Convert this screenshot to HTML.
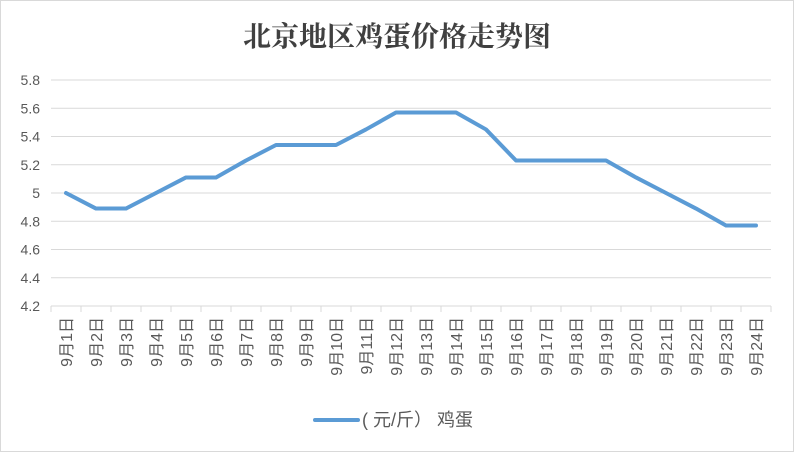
<!DOCTYPE html>
<html><head><meta charset="utf-8"><style>
html,body{margin:0;padding:0;background:#fff;}
svg{display:block;font-family:"Liberation Sans","Noto Sans CJK SC",sans-serif;}
</style></head><body>
<svg id="chart" width="794" height="452" viewBox="0 0 794 452">
<rect x="0.5" y="0.5" width="793" height="451" fill="#fff" stroke="#d9d9d9"/>
<text x="397" y="46" text-anchor="middle" font-size="28" font-weight="bold" fill="#404040" font-family="'Noto Serif CJK SC','Noto Sans CJK SC',serif">北京地区鸡蛋价格走势图</text>
<g id="grid"></g><g id="yt"></g><g id="xt"></g><g id="series"></g>
<g>
<line x1="315" y1="420" x2="358" y2="420" stroke="#5b9bd5" stroke-width="4" stroke-linecap="round"/>
<text x="362" y="426" font-size="18" fill="#595959">( 元/斤） 鸡蛋</text>
</g>
</svg>
<script>
const categories=[];for(let i=1;i<=24;i++)categories.push("9月"+i+"日");
const values=[5.0,4.89,4.89,5.0,5.11,5.11,5.23,5.34,5.34,5.34,5.45,5.57,5.57,5.57,5.45,5.23,5.23,5.23,5.23,5.11,5.0,4.89,4.77,4.77];
const yTicks=[4.2,4.4,4.6,4.8,5,5.2,5.4,5.6,5.8];
const yTickLabels=["4.2","4.4","4.6","4.8","5","5.2","5.4","5.6","5.8"];
const L=51,R=771,T=80,B=306,ymin=4.2,ymax=5.8;
const step=(R-L)/categories.length;
const xs=i=>L+step*(i+0.5);
const ys=v=>B-(v-ymin)/(ymax-ymin)*(B-T);
const NS="http://www.w3.org/2000/svg";
function mk(t,a,p){const e=document.createElementNS(NS,t);for(const k in a)e.setAttribute(k,a[k]);p.appendChild(e);return e;}
const grid=document.getElementById('grid'),yt=document.getElementById('yt'),xt=document.getElementById('xt'),ser=document.getElementById('series');
yTicks.forEach((v,i)=>{
 const l=mk('line',{x1:L,x2:R,y1:ys(v),y2:ys(v),stroke:'#d9d9d9','stroke-width':1},grid);
 
 
 const t=mk('text',{x:40,y:ys(v)+5,'text-anchor':'end','font-size':14,fill:'#595959'},yt);
 t.textContent=yTickLabels[i];
 
 
});
for(let i=0;i<=categories.length;i++){
 const x=L+step*i;
 const tk=mk('line',{x1:x,x2:x,y1:B,y2:B+6,stroke:'#d9d9d9','stroke-width':1},xt);
 
 
}
categories.forEach((c,i)=>{
 const x=xs(i)+6;
 const t=mk('text',{x:x,y:317,'text-anchor':'end','font-size':16,fill:'#595959',transform:`rotate(-90 ${x} 317)`},xt);
 t.textContent=c;
 
 
});
const p=mk('polyline',{points:values.map((v,i)=>xs(i)+','+ys(v)).join(' '),fill:'none',stroke:'#5b9bd5','stroke-width':4,'stroke-linejoin':'round','stroke-linecap':'round'},ser);


</script>
</body></html>
